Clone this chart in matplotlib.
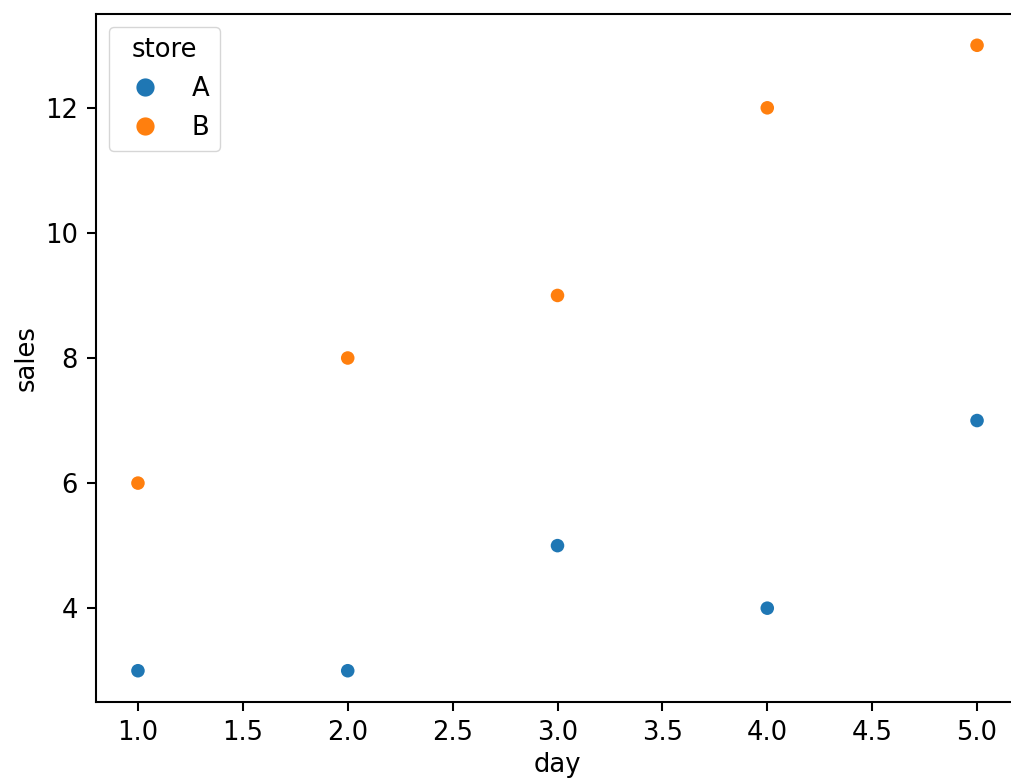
import matplotlib
matplotlib.use("Agg")
import matplotlib.pyplot as plt
import pandas as pd
import seaborn as sns

day = [1, 2, 3, 4, 5]
sales_a = [3, 3, 5, 4, 7]
sales_b = [6, 8, 9, 12, 13]

df = pd.DataFrame({
    "day": day + day,
    "sales": sales_a + sales_b,
    "store": ["A"] * len(day) + ["B"] * len(day),
})

k = 1.86  # scale from the original 186 dpi look
plt.rcParams.update({
    "font.size": 10 * k,
    "axes.linewidth": 0.8 * k,
    "xtick.major.width": 0.8 * k,
    "ytick.major.width": 0.8 * k,
    "xtick.major.size": 3.5 * k,
    "ytick.major.size": 3.5 * k,
    "xtick.major.pad": 3.5 * k,
    "ytick.major.pad": 3.5 * k,
})

fig = plt.figure(figsize=(10.11, 7.83), dpi=100)
ax = fig.add_axes([96 / 1011, 81 / 783, 923 / 1011, 688 / 783])

sns.scatterplot(data=df, x="day", y="sales", hue="store", s=(6 * k) ** 2,
                linewidth=0.75 * k, ax=ax)

# the original picture is cropped just before the right spine
ax.spines["right"].set_visible(False)

leg = ax.get_legend()
leg.set_title("store")
for h in leg.legend_handles:
    h.set_markersize(6 * k * 1.3)

fig.savefig("out.png", dpi=100)
